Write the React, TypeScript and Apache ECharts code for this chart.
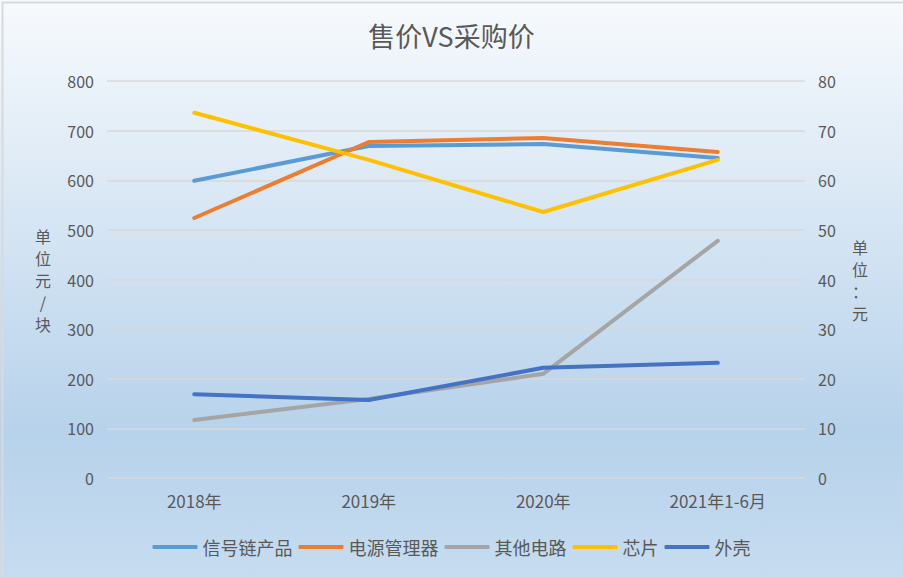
import React, { useEffect, useRef } from "react";
import * as echarts from "echarts";

const categories = ["2018年", "2019年", "2020年", "2021年1-6月"];
const signalChain = [599, 669, 673, 645];
const powerMgmt = [524, 677, 685, 657];
const otherCircuit = [117, 159, 210, 478];
const chip = [736, 641, 536, 641];
const shell = [169, 157, 222, 232];
const leftTicks = [0, 100, 200, 300, 400, 500, 600, 700, 800];
const rightTicks = [0, 10, 20, 30, 40, 50, 60, 70, 80];
const leftName = ["单", "位", "元", "/", "块"];
const rightName = ["单", "位", "：", "元"];

const seriesDefs = [
  { name: "信号链产品", data: signalChain, color: "#5B9BD5" },
  { name: "电源管理器", data: powerMgmt, color: "#ED7D31" },
  { name: "其他电路", data: otherCircuit, color: "#A5A5A5" },
  { name: "芯片", data: chip, color: "#FFC000" },
  { name: "外壳", data: shell, color: "#4472C4" },
];

const FONT = "'Noto Sans CJK SC', 'Noto Sans', sans-serif";
const TXT = "#595959";

export default function App() {
  const ref = useRef<HTMLDivElement>(null);
  useEffect(() => {
    if (!ref.current) return;
    const chart = echarts.init(ref.current, null, { renderer: "svg" });
    chart.setOption({
      animation: false,
      backgroundColor: {
        type: "linear",
        x: 0,
        y: 0,
        x2: 0,
        y2: 1,
        colorStops: [
          { offset: 0, color: "#F7FAFD" },
          { offset: 0.75, color: "#B7D2EB" },
          { offset: 1, color: "#C6DCF0" },
        ],
      },
      title: {
        text: "售价VS采购价",
        left: "center",
        top: 17,
        textStyle: { fontFamily: FONT, fontSize: 27, fontWeight: "normal", color: TXT },
      },
      legend: {
        top: 533,
        left: "center",
        itemWidth: 45,
        itemHeight: 4,
        itemGap: 6,
        icon: "roundRect",
        textStyle: { fontFamily: FONT, fontSize: 18, color: TXT },
        data: seriesDefs.map((s) => s.name),
      },
      grid: { left: 107, right: 98, top: 81, bottom: 99, containLabel: false },
      xAxis: {
        type: "category",
        data: categories,
        boundaryGap: true,
        axisLine: { show: false },
        axisTick: { show: false },
        axisLabel: { fontFamily: FONT, fontSize: 17, color: TXT, margin: 14 },
      },
      yAxis: [
        {
          type: "value",
          min: leftTicks[0],
          max: leftTicks[leftTicks.length - 1],
          interval: leftTicks[1] - leftTicks[0],
          axisLine: { show: false },
          axisTick: { show: false },
          axisLabel: { fontFamily: FONT, fontSize: 16, color: TXT, margin: 13 },
          splitLine: { lineStyle: { color: "#D9D9D9", width: 1.5 } },
        },
        {
          type: "value",
          min: rightTicks[0],
          max: rightTicks[rightTicks.length - 1],
          interval: rightTicks[1] - rightTicks[0],
          axisLine: { show: false },
          axisTick: { show: false },
          axisLabel: { fontFamily: FONT, fontSize: 16, color: TXT, margin: 13 },
          splitLine: { show: false },
        },
      ],
      graphic: [
        {
          type: "text",
          x: 43,
          y: 225,
          style: {
            text: leftName.join("\n"),
            fontFamily: FONT,
            fontSize: 16,
            lineHeight: 22,
            fill: TXT,
            align: "center",
            verticalAlign: "top",
          },
        },
        {
          type: "text",
          x: 860,
          y: 236,
          style: {
            text: rightName.join("\n"),
            fontFamily: FONT,
            fontSize: 16,
            lineHeight: 22,
            fill: TXT,
            align: "center",
            verticalAlign: "top",
          },
        },
        {
          type: "rect",
          left: 0,
          top: 0,
          shape: { x: 0, y: 0, width: 902, height: 576 },
          style: { fill: "none", stroke: "#D9D9D9", lineWidth: 2 },
        },
      ],
      series: seriesDefs.map((s) => ({
        name: s.name,
        type: "line",
        data: s.data,
        yAxisIndex: 0,
        symbol: "none",
        lineStyle: { width: 4, color: s.color, cap: "round", join: "round" },
        itemStyle: { color: s.color },
      })),
    });
    return () => chart.dispose();
  }, []);
  return (
    <div
      ref={ref}
      style={{ position: "absolute", left: 0, top: 0, width: 903, height: 577 }}
    />
  );
}
